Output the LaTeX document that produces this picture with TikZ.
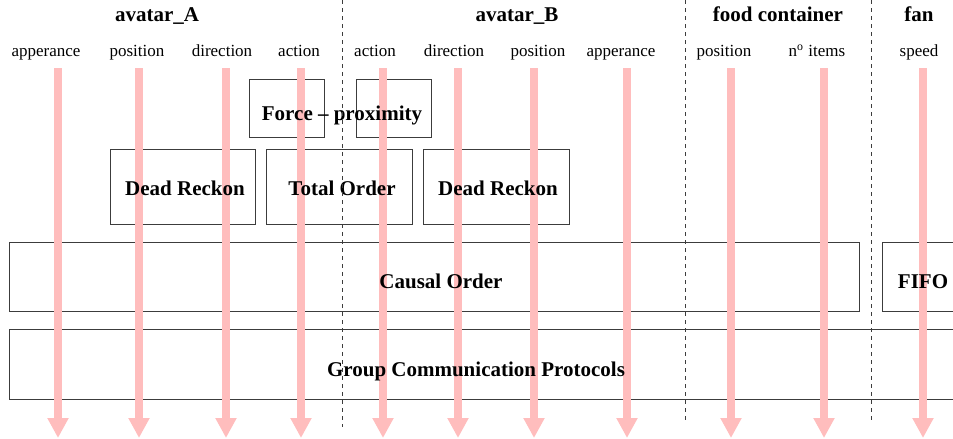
\documentclass[tikz,border=0pt]{standalone}
\usepackage{fontspec}
\setmainfont{Liberation Serif}
\usepackage{tikz}
\usetikzlibrary{positioning, arrows.meta, fit}
\definecolor{flowpink}{RGB}{255,189,189}
\definecolor{boxgray}{RGB}{60,60,60}

\begin{document}
\begin{tikzpicture}[
  x=0.5pt, y=-0.5pt,
  head/.style={font=\fontsize{10.5}{12}\selectfont\bfseries, inner sep=0pt, anchor=base},
  attr/.style={font=\fontsize{8.5}{10}\selectfont, inner sep=0pt, anchor=base},
  layer/.style={draw=boxgray, line width=0.5pt, inner sep=0pt},
  layertext/.style={font=\fontsize{10.5}{12}\selectfont\bfseries, inner sep=0pt, anchor=base},
  flow/.style={draw=flowpink, line width=4pt, -{Triangle[width=10pt, length=10pt]}},
  border/.style={draw=boxgray, line width=0.5pt, dash pattern=on 2pt off 2pt},
]
\useasboundingbox (0,0) rectangle (953,439);

\node[layer, fit={(249,79) (324,137)}] (forceA) {};
\node[layer, fit={(356,79) (431,137)}] (forceB) {};
\node[layer, fit={(110,149) (255,224)}] (reckonA) {};
\node[layer, fit={(266,149) (412,224)}] (total) {};
\node[layer, fit={(423,149) (569,224)}] (reckonB) {};
\node[layer, fit={(9,242) (859,311)}] (causal) {};
\node[layer, fit={(882,242) (980,311)}] (fifo) {};
\node[layer, fit={(9,329) (980,399)}] (group) {};

\foreach \x/\n in {58/appA, 139/posA, 226/dirA, 301/actA, 383/actB, 458/dirB,
                   534/posB, 627/appB, 731/posF, 824/items, 923/speed} {
  \coordinate (top-\n) at (\x,68);
  \coordinate (bot-\n) at (\x,438);
  \draw[flow] (top-\n) -- (bot-\n);
}

\node[head] (avatarA) at (157,21) {avatar\_A};
\node[head] (avatarB) at (517,21) {avatar\_B};
\node[head] (food) at (778,21) {food container};
\node[head] (fan) at (919,21) {fan};

\node[attr] (l-appA) at (46,56) {apperance};
\node[attr] (l-posA) at (137,56) {position};
\node[attr] (l-dirA) at (222,56) {direction};
\node[attr] (l-actA) at (299,56) {action};
\node[attr] (l-actB) at (375,56) {action};
\node[attr] (l-dirB) at (454,56) {direction};
\node[attr] (l-posB) at (538,56) {position};
\node[attr] (l-appB) at (621,56) {apperance};
\node[attr] (l-posF) at (724,56) {position};
\node[attr] (l-items) at (817,56) {n\textsuperscript{o} items};
\node[attr] (l-speed) at (919,56) {speed};

\node[layertext] (t-force) at (342,120) {Force -- proximity};
\node[layertext] (t-reckonA) at (185,195) {Dead Reckon};
\node[layertext] (t-total) at (342,195) {Total Order};
\node[layertext] (t-reckonB) at (498,195) {Dead Reckon};
\node[layertext] (t-causal) at (441,288) {Causal Order};
\node[layertext] (t-fifo) at (923,288) {FIFO};
\node[layertext] (t-group) at (476,376) {Group Communication Protocols};

\coordinate (sepAB-top) at (342,0);
\coordinate (sepAB-bot) at (342,427);
\coordinate (sepBF-top) at (685,0);
\coordinate (sepBF-bot) at (685,422);
\coordinate (sepFF-top) at (871,0);
\coordinate (sepFF-bot) at (871,422);
\draw[border] (sepAB-top) -- (sepAB-bot);
\draw[border] (sepBF-top) -- (sepBF-bot);
\draw[border] (sepFF-top) -- (sepFF-bot);
\end{tikzpicture}
\end{document}
